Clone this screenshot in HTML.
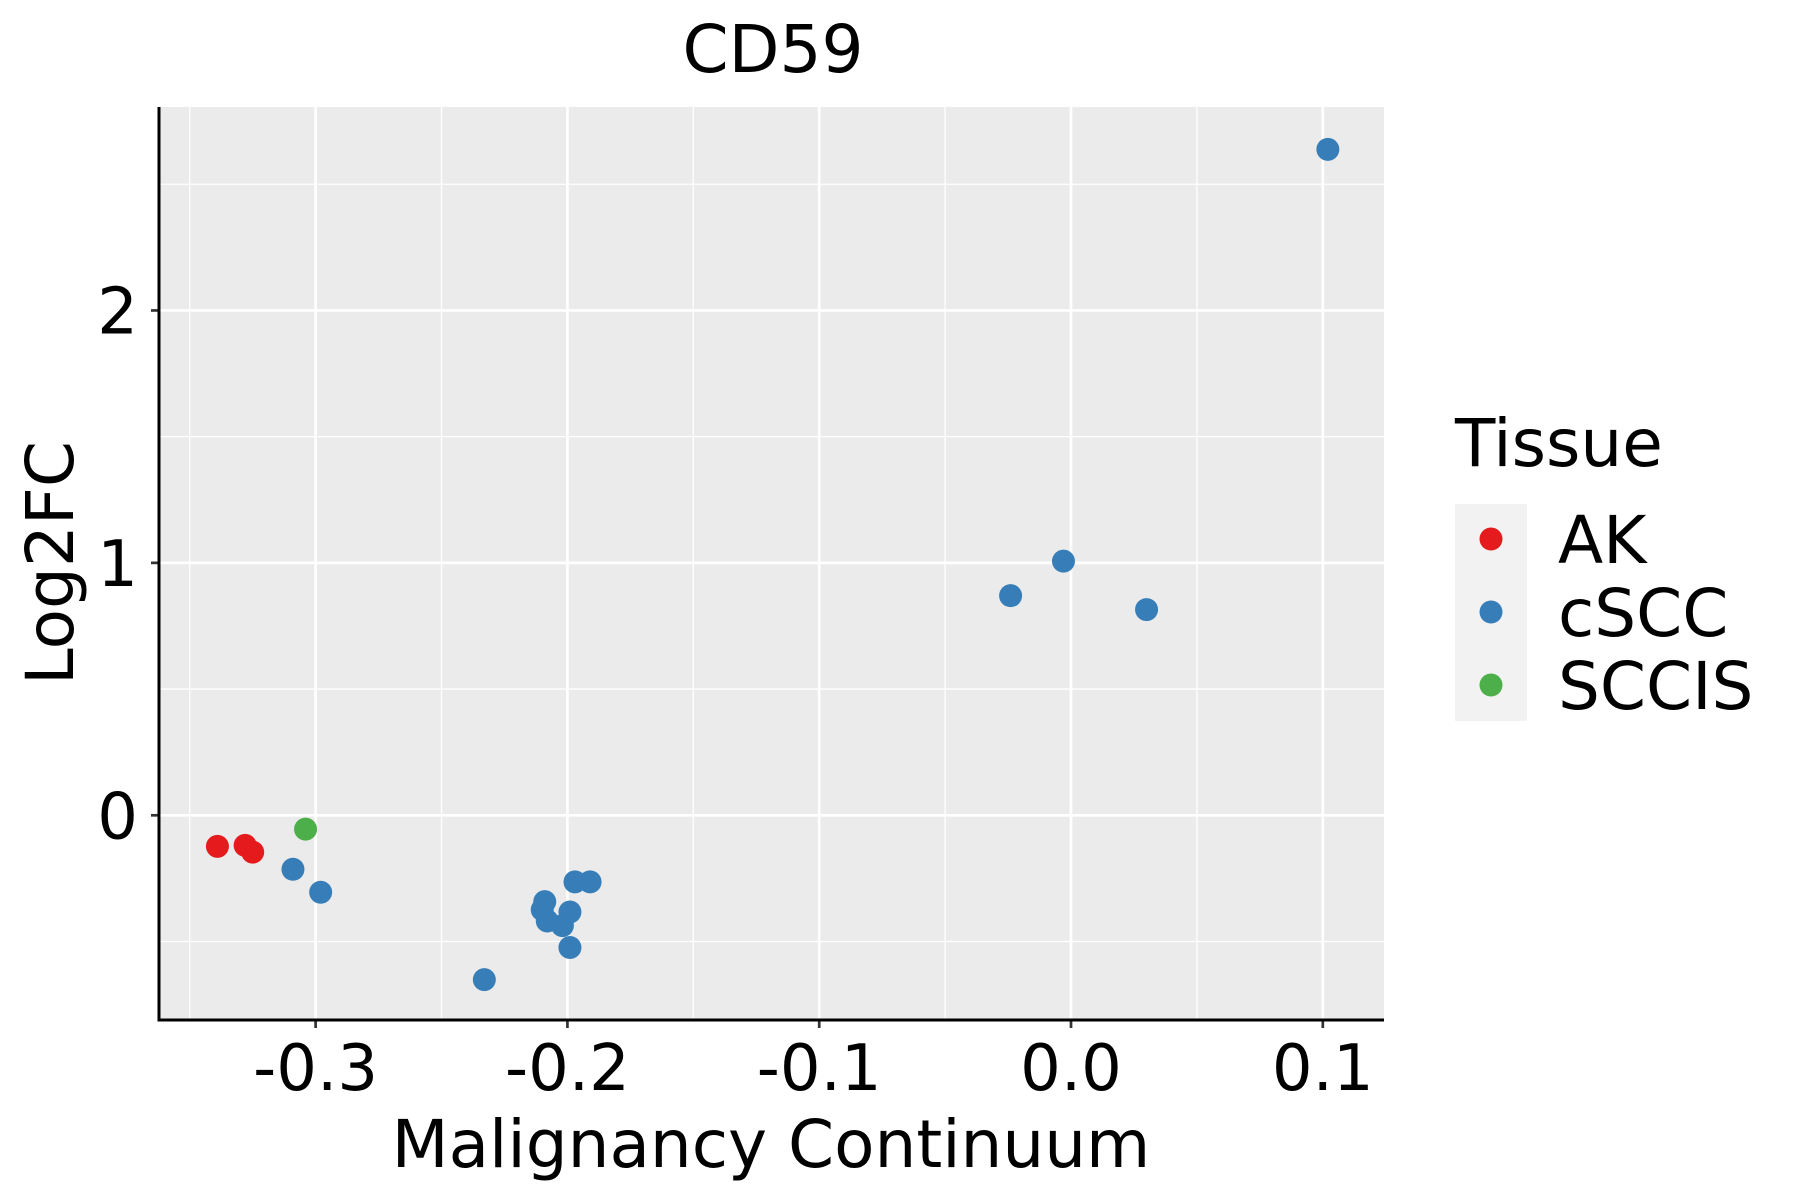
<!DOCTYPE html>
<html><head><meta charset="utf-8"><style>
body{margin:0;background:#fff;}
svg{display:block;font-family:"DejaVu Sans","Liberation Sans",sans-serif;}
</style></head><body>
<svg id="chart" width="1800" height="1200" viewBox="0 0 1800 1200"></svg>
<script>
const xValsAK=[-0.339,-0.328,-0.325];
const yValsAK=[-0.123,-0.119,-0.146];
const xValsSCCIS=[-0.304];
const yValsSCCIS=[-0.055];
const xValsCSCC=[-0.309,-0.298,-0.233,-0.209,-0.210,-0.208,-0.202,-0.199,-0.199,-0.197,-0.191,-0.024,-0.003,0.030,0.102];
const yValsCSCC=[-0.214,-0.305,-0.651,-0.342,-0.374,-0.419,-0.437,-0.383,-0.524,-0.264,-0.264,0.870,1.007,0.815,2.638];
const xTicks=[-0.3,-0.2,-0.1,0.0,0.1];
const xTickLabels=["-0.3","-0.2","-0.1","0.0","0.1"];
const xMinor=[-0.35,-0.25,-0.15,-0.05,0.05];
const yTicks=[0,1,2];
const yTickLabels=["0","1","2"];
const yMinor=[-0.5,0.5,1.5,2.5];
const legendLabels=["AK","cSCC","SCCIS"];
const legendColors=["#E41A1C","#377EB8","#4DAF4A"];

const L=159,R=1384,T=107,B=1020;
const X0=-0.3622,X1=0.1243,Y0=-0.811,Y1=2.806;
function sx(v){return L+(v-X0)/(X1-X0)*(R-L);}
function sy(v){return B-(v-Y0)/(Y1-Y0)*(B-T);}
const NS="http://www.w3.org/2000/svg";
const svg=document.getElementById('chart');
function mk(tag,attrs,parent){const e=document.createElementNS(NS,tag);for(const k in attrs)e.setAttribute(k,attrs[k]);(parent||svg).appendChild(e);return e;}

const panel=mk('rect',{x:L,y:T,width:R-L,height:B-T,fill:'#EBEBEB'});


xMinor.forEach(v=>{const l=mk('line',{x1:sx(v),x2:sx(v),y1:T,y2:B,stroke:'#fff','stroke-width':1.3});

});
yMinor.forEach(v=>{const l=mk('line',{x1:L,x2:R,y1:sy(v),y2:sy(v),stroke:'#fff','stroke-width':1.3});

});
xTicks.forEach((v,i)=>{
const l=mk('line',{x1:sx(v),x2:sx(v),y1:T,y2:B,stroke:'#fff','stroke-width':2.7});


const t=mk('line',{x1:sx(v),x2:sx(v),y1:B,y2:B+8,stroke:'#333','stroke-width':2.7});


const tx=mk('text',{x:sx(v),y:1090,'text-anchor':'middle','font-size':64,fill:'#000'});
tx.textContent=xTickLabels[i];


});
yTicks.forEach((v,i)=>{
const l=mk('line',{x1:L,x2:R,y1:sy(v),y2:sy(v),stroke:'#fff','stroke-width':2.7});


const t=mk('line',{x1:L-8,x2:L,y1:sy(v),y2:sy(v),stroke:'#333','stroke-width':2.7});


const tx=mk('text',{x:138,y:sy(v)+23,'text-anchor':'end','font-size':64,fill:'#000'});
tx.textContent=yTickLabels[i];


});
const ax=mk('path',{d:`M${L},${T} L${L},${B} L${R},${B}`,fill:'none',stroke:'#000','stroke-width':3});



function plot(xs,ys,color,name){xs.forEach((x,i)=>{
const c=mk('circle',{cx:sx(x),cy:sy(ys[i]),r:11.5,fill:color});

});}
plot(xValsCSCC,yValsCSCC,'#377EB8','point-cscc');
plot(xValsAK,yValsAK,'#E41A1C','point-ak');
plot(xValsSCCIS,yValsSCCIS,'#4DAF4A','point-sccis');

const title=mk('text',{x:773,y:72,'text-anchor':'middle','font-size':66,fill:'#000'});
title.textContent='CD59';


const xt=mk('text',{x:771,y:1167,'text-anchor':'middle','font-size':66,fill:'#000'});
xt.textContent='Malignancy Continuum';


const yt=mk('text',{x:0,y:0,'text-anchor':'middle','font-size':66,fill:'#000',transform:'translate(73,563) rotate(-90)'});
yt.textContent='Log2FC';



const lt=mk('text',{x:1455,y:466,'font-size':66,fill:'#000'});
lt.textContent='Tissue';


const lbg=mk('rect',{x:1455,y:504,width:72,height:217,fill:'#F2F2F2'});


legendLabels.forEach((lab,i)=>{
const cy=539+i*73;
const c=mk('circle',{cx:1491,cy:cy,r:11.5,fill:legendColors[i]});


const t=mk('text',{x:1558,y:cy+24,'font-size':66,fill:'#000'});
t.textContent=lab;


});
</script>
</body></html>
